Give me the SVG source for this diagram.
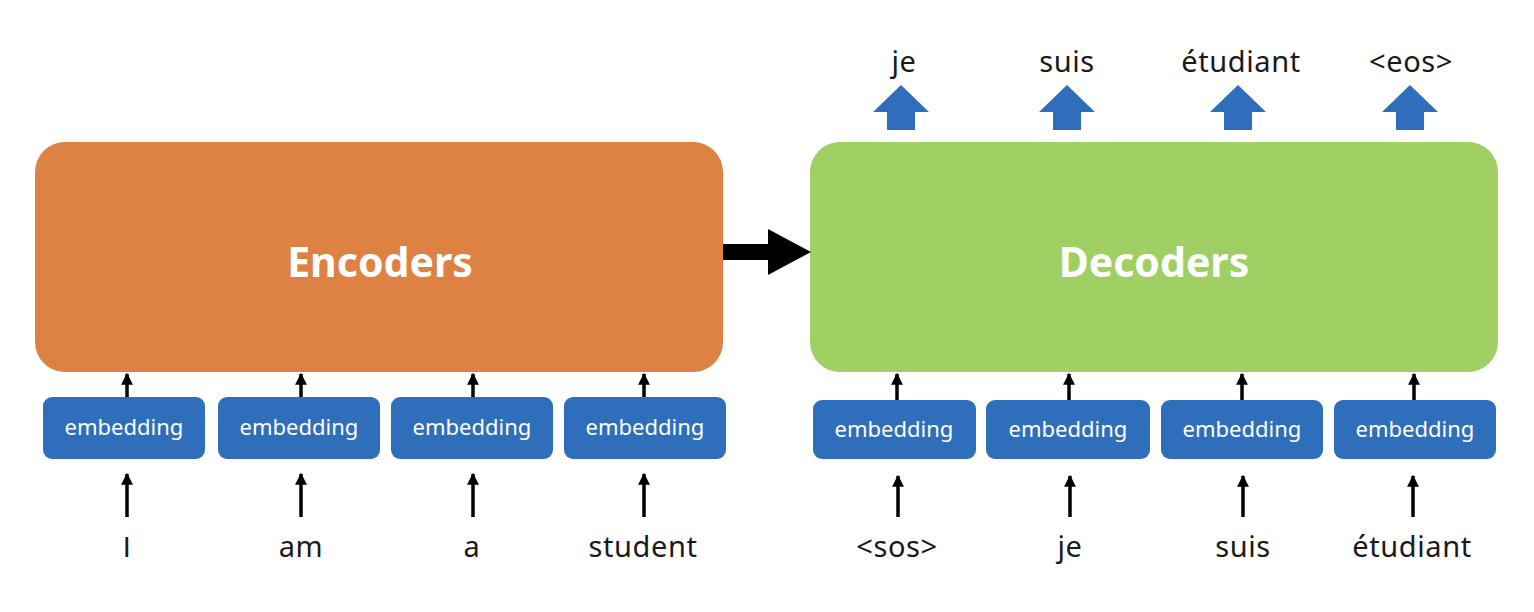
<svg xmlns="http://www.w3.org/2000/svg" width="1534" height="612" viewBox="0 0 1534 612">
<style>
.lbl{font-family:"Noto Sans","Open Sans",sans-serif;font-size:29px;letter-spacing:0.6px;fill:#1a1a1a;text-anchor:middle}
.emb rect{fill:#2F6EBA}
.emb text{font-family:"Noto Sans","Open Sans",sans-serif;font-size:22px;fill:#fff;text-anchor:middle}
.big{font-family:"Noto Sans","Open Sans",sans-serif;font-size:41px;font-weight:bold;fill:#fff;text-anchor:middle}
.ar{stroke:#000;stroke-width:3.5;fill:none}
</style>
<defs>
<marker id="ah" viewBox="0 0 10 10" refX="9" refY="5" markerWidth="3.4" markerHeight="3.4" markerUnits="strokeWidth" orient="auto">
<path d="M0,0 L10,5 L0,10 Z" fill="#000"/>
</marker>
<path id="blueArrow" d="M-28,19 L0,-8 L28,19 L14,19 L14,37 L-14,37 L-14,19 Z" fill="#2F6EBA"/>
</defs>
<rect width="1534" height="612" fill="#fff"/>
<g id="encoder"><rect x="35" y="142" width="688" height="230" rx="30" fill="#DE8244"/><text class="big" x="380" y="277">Encoders</text></g>
<g id="decoder"><rect x="810" y="142" width="688" height="230" rx="30" fill="#A0CF64"/><text class="big" x="1154" y="277">Decoders</text></g>
<g id="enc-emb1" class="emb"><rect x="43" y="397" width="162" height="62" rx="9"/><text x="124" y="435">embedding</text></g>
<g id="enc-emb2" class="emb"><rect x="218" y="397" width="162" height="62" rx="9"/><text x="299" y="435">embedding</text></g>
<g id="enc-emb3" class="emb"><rect x="391" y="397" width="162" height="62" rx="9"/><text x="472" y="435">embedding</text></g>
<g id="enc-emb4" class="emb"><rect x="564" y="397" width="162" height="62" rx="9"/><text x="645" y="435">embedding</text></g>
<g id="dec-emb1" class="emb"><rect x="813" y="400" width="163" height="59" rx="9"/><text x="894" y="437">embedding</text></g>
<g id="dec-emb2" class="emb"><rect x="986" y="400" width="164" height="59" rx="9"/><text x="1068" y="437">embedding</text></g>
<g id="dec-emb3" class="emb"><rect x="1161" y="400" width="162" height="59" rx="9"/><text x="1242" y="437">embedding</text></g>
<g id="dec-emb4" class="emb"><rect x="1334" y="400" width="162" height="59" rx="9"/><text x="1415" y="437">embedding</text></g>
<g id="inputs">
<text class="lbl" x="127" y="557" style="font-family:'Liberation Sans',sans-serif">I</text>
<text class="lbl" x="301" y="557">am</text>
<text class="lbl" x="472" y="557">a</text>
<text class="lbl" x="643" y="557">student</text>
<text class="lbl" x="897" y="557">&lt;sos&gt;</text>
<text class="lbl" x="1070" y="557">je</text>
<text class="lbl" x="1243" y="557">suis</text>
<text class="lbl" x="1412" y="557">étudiant</text>
</g>
<g id="outputs">
<text class="lbl" x="904" y="72">je</text>
<text class="lbl" x="1067" y="72">suis</text>
<text class="lbl" x="1241" y="72">étudiant</text>
<text class="lbl" x="1411" y="72">&lt;eos&gt;</text>
</g>
<g id="connectors">
<path d="M723,252 L770,252" stroke="#000" stroke-width="16"/>
<path d="M768,229 L811,252 L768,275 Z" fill="#000"/>
<path class="ar" marker-end="url(#ah)" d="M127,397 V374"/>
<path class="ar" marker-end="url(#ah)" d="M301,397 V374"/>
<path class="ar" marker-end="url(#ah)" d="M473,397 V374"/>
<path class="ar" marker-end="url(#ah)" d="M644,397 V374"/>
<path class="ar" marker-end="url(#ah)" d="M897,400 V374"/>
<path class="ar" marker-end="url(#ah)" d="M1069,400 V374"/>
<path class="ar" marker-end="url(#ah)" d="M1242,400 V374"/>
<path class="ar" marker-end="url(#ah)" d="M1414,400 V374"/>
<path class="ar" marker-end="url(#ah)" d="M127,517 V474"/>
<path class="ar" marker-end="url(#ah)" d="M301,517 V474"/>
<path class="ar" marker-end="url(#ah)" d="M473,517 V474"/>
<path class="ar" marker-end="url(#ah)" d="M644,517 V474"/>
<path class="ar" marker-end="url(#ah)" d="M898,517 V476"/>
<path class="ar" marker-end="url(#ah)" d="M1070,517 V476"/>
<path class="ar" marker-end="url(#ah)" d="M1243,517 V476"/>
<path class="ar" marker-end="url(#ah)" d="M1413,517 V476"/>
<use href="#blueArrow" x="901" y="93"/>
<use href="#blueArrow" x="1067" y="93"/>
<use href="#blueArrow" x="1238" y="93"/>
<use href="#blueArrow" x="1410" y="93"/>
</g>
</svg>
